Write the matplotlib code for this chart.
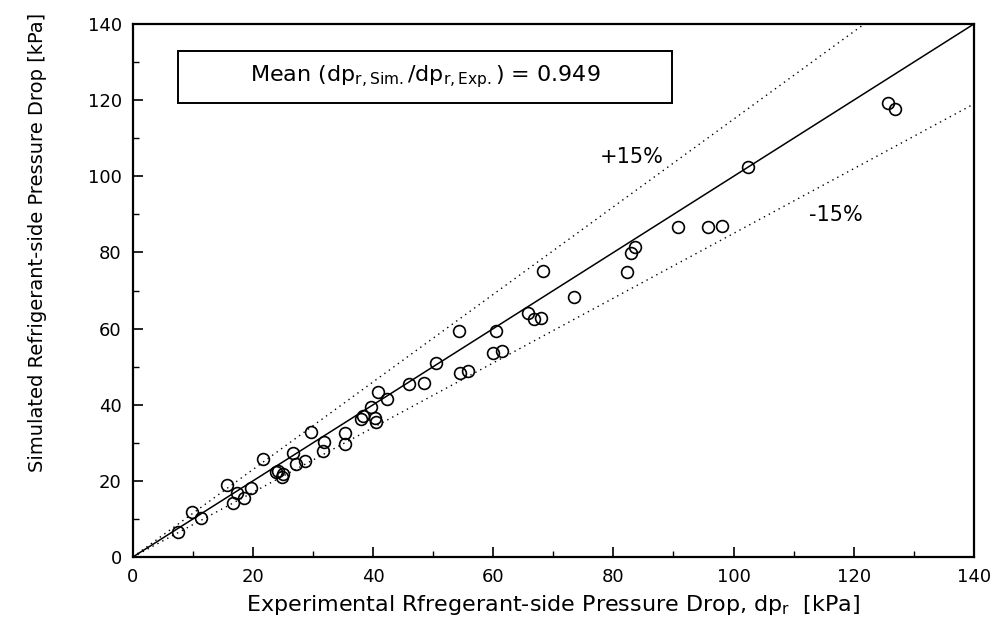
import matplotlib
matplotlib.use("Agg")
import matplotlib.pyplot as plt
from matplotlib.patches import Rectangle
import numpy as np

plt.rcParams['font.family'] = ['DejaVu Sans']
plt.rcParams['mathtext.fontset'] = 'dejavusans'

# experimental vs simulated refrigerant-side pressure drop [kPa]
dp_exp = [7.5, 9.8, 11.4, 15.6, 16.6, 17.4, 18.5, 19.7, 21.6, 23.9,
          24.2, 25.0, 24.8, 26.7, 27.1, 28.6, 29.6, 31.8, 31.7, 35.3,
          35.3, 38.3, 38.0, 39.7, 40.3, 40.5, 40.8, 42.3, 46.0, 48.4,
          50.4, 54.3, 54.4, 55.8, 59.9, 60.4, 61.4, 65.8, 66.8, 67.9,
          68.2, 73.4, 82.2, 82.9, 83.6, 90.8, 95.8, 98.0, 102.4, 125.7,
          126.9]
dp_sim = [6.6, 11.9, 10.2, 18.9, 14.1, 16.7, 15.4, 18.2, 25.7, 22.4,
          22.7, 21.8, 20.9, 27.4, 24.4, 25.3, 32.9, 30.3, 27.9, 32.5,
          29.7, 37.0, 36.2, 39.5, 36.4, 35.5, 43.4, 41.4, 45.4, 45.6,
          50.9, 59.4, 48.3, 48.9, 53.7, 59.4, 54.2, 64.0, 62.4, 62.9,
          75.2, 68.2, 74.9, 79.9, 81.5, 86.6, 86.8, 86.9, 102.4, 119.2,
          117.6]
mean_ratio = 0.949
band = 0.15

fig = plt.figure(figsize=(10.07, 6.34), dpi=100)
ax = fig.add_axes([0.132, 0.1215, 0.835, 0.8405])

line_x = np.array([0, 140])
ax.plot(line_x, line_x, color='black', lw=1.1)
ax.plot(line_x, line_x * (1 + band), color='black', lw=1.0, ls=(0, (1, 3)))
ax.plot(line_x, line_x * (1 - band), color='black', lw=1.0, ls=(0, (1, 3)))

ax.plot(dp_exp, dp_sim, 'o', mfc='none', mec='black', ms=8.5, mew=1.2)

ax.set_xlim(0, 140)
ax.set_ylim(0, 140)
ax.set_xticks(np.arange(0, 141, 20))
ax.set_yticks(np.arange(0, 141, 20))
ax.set_xticks(np.arange(0, 141, 10), minor=True)
ax.set_yticks(np.arange(0, 141, 10), minor=True)
ax.tick_params(which='major', direction='in', length=7, width=1.2,
               labelsize=13, pad=8)
ax.tick_params(which='minor', direction='in', length=4, width=1.0)
for s in ax.spines.values():
    s.set_linewidth(1.6)

ax.set_xlabel('Experimental Rfregerant-side Pressure Drop, dp$_\\mathregular{r}$  [kPa]',
              fontsize=16, labelpad=5)
ax.set_ylabel('Simulated Refrigerant-side Pressure Drop [kPa]', fontsize=14)
ax.yaxis.set_label_coords(-0.102, 0.59)

# legend-like box with the mean ratio
ax.add_patch(Rectangle((7.5, 119.3), 82.2, 13.6, fc='white', ec='black',
                       lw=1.4, zorder=3))
ax.text(48.6, 126.1,
        'Mean (dp$_\\mathregular{r,Sim.}$/dp$_\\mathregular{r,Exp.}$) = %.3f' % mean_ratio,
        ha='center', va='center', fontsize=16, zorder=4)
ax.text(83.1, 105, '+15%', ha='center', va='center', fontsize=15)
ax.text(117, 89.8, '-15%', ha='center', va='center', fontsize=15)

fig.savefig('out.png', dpi=100)
